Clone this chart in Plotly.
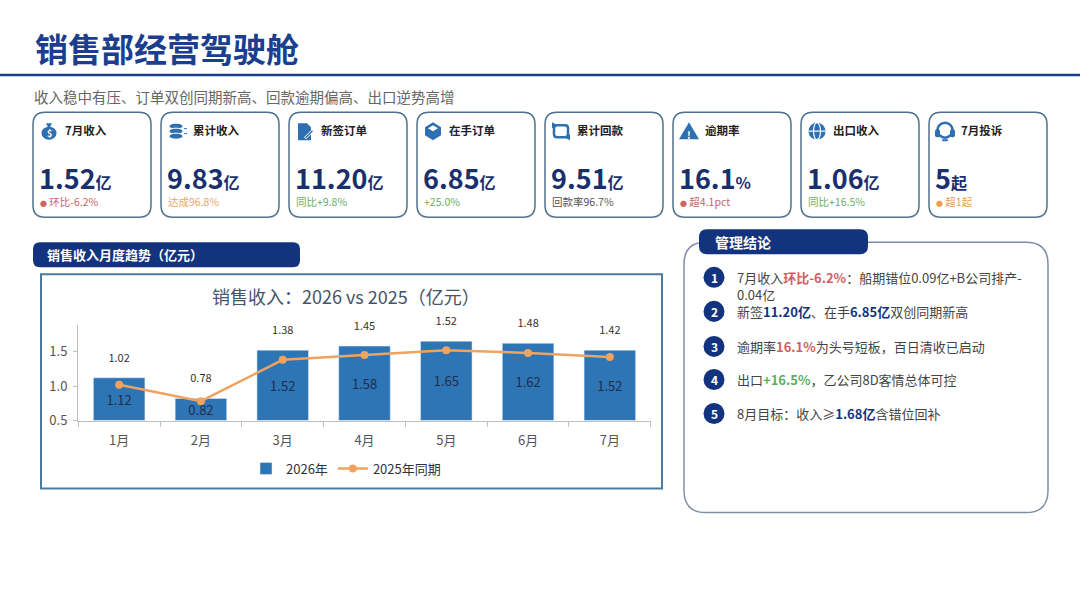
import plotly.graph_objects as go

W, H = 1080, 608
K = 0.984  # vertical correction: the photographed page comes out slightly squeezed
FONT = "Noto Sans CJK SC"
NAVY = "#14337f"
ICON = "#2e6fb0"

# ---------------------------------------------------------------------------
# data
# ---------------------------------------------------------------------------
months = ["1月", "2月", "3月", "4月", "5月", "6月", "7月"]
rev_2026 = [1.12, 0.82, 1.52, 1.58, 1.65, 1.62, 1.52]
rev_2025 = [1.02, 0.78, 1.38, 1.45, 1.52, 1.48, 1.42]
y_floor = 0.5  # axis starts at 0.5, bars are drawn from there

kpi_labels = ["7月收入", "累计收入", "新签订单", "在手订单", "累计回款", "逾期率", "出口收入", "7月投诉"]
kpi_values = ["1.52", "9.83", "11.20", "6.85", "9.51", "16.1", "1.06", "5"]
kpi_units = ["亿", "亿", "亿", "亿", "亿", "%", "亿", "起"]
kpi_notes = ["● 环比-6.2%", "达成96.8%", "同比+9.8%", "+25.0%", "回款率96.7%", "● 超4.1pct", "同比+16.5%", "● 超1起"]
kpi_note_colors = ["#c86464", "#e8a56a", "#6aae62", "#6aae62", "#555555", "#c86464", "#6aae62", "#e8a050"]

RED, GREEN = "#d06060", "#5cae5c"
conclusions = [
    f"7月收入<b><span style='color:{RED}'>环比-6.2%</span></b>：船期错位0.09亿+B公司排产-<br>0.04亿",
    f"新签<b><span style='color:{NAVY}'>11.20亿</span></b>、在手<b><span style='color:{NAVY}'>6.85亿</span></b>双创同期新高",
    f"逾期率<b><span style='color:{RED}'>16.1%</span></b>为头号短板，百日清收已启动",
    f"出口<b><span style='color:{GREEN}'>+16.5%</span></b>，乙公司8D客情总体可控",
    f"8月目标：收入≥<b><span style='color:{NAVY}'>1.68亿</span></b>含错位回补",
]


# ---------------------------------------------------------------------------
# helpers (pixel -> paper)
# ---------------------------------------------------------------------------
def X(px):
    return px / W


def Y(py):
    return 1 - py / (H * K)


def rrect(x0, y0, x1, y1, r):
    pts = [
        f"M {X(x0 + r)},{Y(y0)}",
        f"L {X(x1 - r)},{Y(y0)}",
        f"Q {X(x1)},{Y(y0)} {X(x1)},{Y(y0 + r)}",
        f"L {X(x1)},{Y(y1 - r)}",
        f"Q {X(x1)},{Y(y1)} {X(x1 - r)},{Y(y1)}",
        f"L {X(x0 + r)},{Y(y1)}",
        f"Q {X(x0)},{Y(y1)} {X(x0)},{Y(y1 - r)}",
        f"L {X(x0)},{Y(y0 + r)}",
        f"Q {X(x0)},{Y(y0)} {X(x0 + r)},{Y(y0)}",
        "Z",
    ]
    return " ".join(pts)


def poly(points):
    return "M " + " L ".join(f"{X(a)},{Y(b)}" for a, b in points) + " Z"


shapes = []
annotations = []


def add_path(path, fill=None, line="rgba(0,0,0,0)", width=0, layer="above"):
    shapes.append(dict(type="path", path=path, xref="paper", yref="paper",
                       fillcolor=fill, line=dict(color=line, width=width), layer=layer))


def add_circle(cx, cy, rx, ry=None, fill=None, line="rgba(0,0,0,0)", width=0):
    ry = rx if ry is None else ry
    shapes.append(dict(type="circle", xref="paper", yref="paper",
                       x0=X(cx - rx), x1=X(cx + rx), y0=Y(cy + ry), y1=Y(cy - ry),
                       fillcolor=fill, line=dict(color=line, width=width)))


def text(x, y, s, size, color="#333", bold=False, xanchor="left"):
    annotations.append(dict(x=X(x), y=Y(y), xref="paper", yref="paper", showarrow=False,
                            text=f"<b>{s}</b>" if bold else s, xanchor=xanchor, yanchor="middle",
                            align="left", font=dict(family=FONT, size=size, color=color)))


def icon(i, cx, cy):
    if i == 0:  # money bag
        add_path(poly([(cx - 3, cy - 8), (cx + 3, cy - 8), (cx + 1, cy - 4), (cx - 1, cy - 4)]), fill=ICON)
        add_circle(cx, cy + 2, 7.5, 6.5, fill=ICON)
        text(cx, cy + 2, "$", 9, "white", True, "center")
    elif i == 1:  # coins
        for dy in (-5, 0, 5):
            add_circle(cx - 1, cy + dy, 7, 3, fill=ICON, line="white", width=1)
        add_path(poly([(cx + 7, cy - 3), (cx + 10, cy - 3), (cx + 10, cy - 2), (cx + 7, cy - 2)]), fill=ICON)
        add_path(poly([(cx + 7, cy + 2), (cx + 10, cy + 2), (cx + 10, cy + 3), (cx + 7, cy + 3)]), fill=ICON)
    elif i == 2:  # document + pen
        add_path(poly([(cx - 7, cy - 8), (cx + 2, cy - 8), (cx + 6, cy - 4), (cx + 6, cy + 9), (cx - 7, cy + 9)]), fill=ICON)
        add_path(poly([(cx - 1, cy + 6), (cx + 7, cy - 2), (cx + 9, cy), (cx + 1, cy + 8)]), fill="white")
        add_path(poly([(cx, cy + 6), (cx + 7, cy - 1), (cx + 8, cy), (cx + 1, cy + 7)]), fill=ICON)
    elif i == 3:  # box
        add_path(poly([(cx, cy - 9), (cx + 8, cy - 4), (cx + 8, cy + 4), (cx, cy + 9), (cx - 8, cy + 4), (cx - 8, cy - 4)]), fill=ICON)
        add_path(poly([(cx, cy - 6), (cx + 5, cy - 3), (cx, cy), (cx - 5, cy - 3)]), fill="white")
    elif i == 4:  # refresh arrows
        add_path(rrect(cx - 7, cy - 6, cx + 7, cy + 6, 3), line=ICON, width=2.5)
        add_path(poly([(cx - 9, cy - 9), (cx - 3, cy - 6), (cx - 9, cy - 3)]), fill=ICON)
        add_path(poly([(cx + 9, cy + 3), (cx + 3, cy + 6), (cx + 9, cy + 9)]), fill=ICON)
    elif i == 5:  # warning
        add_path(poly([(cx, cy - 9), (cx + 10, cy + 8), (cx - 10, cy + 8)]), fill=ICON)
        text(cx, cy + 3, "!", 10, "white", True, "center")
    elif i == 6:  # globe
        add_circle(cx, cy, 8.5, fill=ICON)
        add_circle(cx, cy, 3.5, 8.5, line="white", width=1.2)
        shapes.append(dict(type="line", xref="paper", yref="paper", x0=X(cx - 8.5), x1=X(cx + 8.5),
                           y0=Y(cy), y1=Y(cy), line=dict(color="white", width=1.2)))
    else:  # headset
        add_circle(cx, cy - 1, 7.5, line=ICON, width=2.5)
        add_path(rrect(cx - 10, cy - 2, cx - 5, cy + 6, 2), fill=ICON)
        add_path(rrect(cx + 5, cy - 2, cx + 10, cy + 6, 2), fill=ICON)
        add_path(rrect(cx - 3, cy + 8, cx + 3, cy + 10, 1), fill=ICON)


# ---------------------------------------------------------------------------
# header
# ---------------------------------------------------------------------------
text(33, 48, "销售部经营驾驶舱", 33, "#1b3e8e", True)
shapes.append(dict(type="line", xref="paper", yref="paper", x0=0, x1=1, y0=Y(75), y1=Y(75),
                   line=dict(color="#1b3e8e", width=2.5)))
text(32, 96, "收入稳中有压、订单双创同期新高、回款逾期偏高、出口逆势高增", 14.5, "#666")

# ---------------------------------------------------------------------------
# KPI cards
# ---------------------------------------------------------------------------
for i, lab in enumerate(kpi_labels):
    x0 = 33 + 128 * i
    add_path(rrect(x0, 112, x0 + 118, 217, 12), fill="white", line="#4f6f8f", width=1.5, layer="below")
    icon(i, x0 + 16, 131)
    text(x0 + 30, 130, lab, 11.5, "#222", True)
    text(x0 + 4, 177,
         f"<b>{kpi_values[i]}</b><span style='font-size:16px'><b>{kpi_units[i]}</b></span>",
         27, "#1a2f6e")
    note = kpi_notes[i].replace("● ", "<span style='font-size:7px'>●</span> ")
    text(x0 + 5, 201, note, 10.5, kpi_note_colors[i])

# ---------------------------------------------------------------------------
# chart section
# ---------------------------------------------------------------------------
add_path(rrect(33, 242, 300, 267, 7), fill=NAVY)
text(45, 254.5, "销售收入月度趋势（亿元）", 13, "white", True)
shapes.append(dict(type="rect", xref="paper", yref="paper", x0=X(41), x1=X(662), y0=Y(488), y1=Y(274),
                   line=dict(color="#4a7a9c", width=2), fillcolor="rgba(0,0,0,0)", layer="below"))
text(346, 296, "销售收入：2026 vs 2025（亿元）", 18, "#44546a", xanchor="center")

# ---------------------------------------------------------------------------
# conclusions panel
# ---------------------------------------------------------------------------
add_path(rrect(684, 242, 1048, 512, 22), fill="white", line="#7d8fa6", width=1.5, layer="below")
add_path(rrect(699, 229, 868, 254, 8), fill=NAVY)
text(713, 241.5, "管理结论", 14, "white", True)
item_y = [286, 311, 346, 379, 413]
circle_y = [277, 311, 346, 379, 413]
for k, s in enumerate(conclusions):
    add_circle(714, circle_y[k], 10.5, fill=NAVY)
    text(714, circle_y[k], str(k + 1), 12, "white", True, "center")
    text(735, item_y[k], s, 13, "#444")

# ---------------------------------------------------------------------------
# figure
# ---------------------------------------------------------------------------
fig = go.Figure()
fig.add_trace(go.Bar(
    x=months, y=[v - y_floor for v in rev_2026], base=y_floor, name="2026年",
    marker=dict(color="#2e75b6"),
    text=[f"{v:.2f}" for v in rev_2026], textposition="inside", insidetextanchor="middle",
    constraintext="none", cliponaxis=False,
    textfont=dict(family=FONT, size=13, color="#1f2d4a"),
    hovertext=[f"{v:.2f}" for v in rev_2026], hoverinfo="x+text",
))
fig.add_trace(go.Scatter(
    x=months, y=rev_2025, name="2025年同期", mode="lines+markers",
    line=dict(color="#f0a35e", width=2.5), marker=dict(color="#f0a35e", size=8),
))
# 2025 value labels sit above whichever is taller, the bar or the point
fig.add_trace(go.Scatter(
    x=months, y=[max(a, b) for a, b in zip(rev_2026, rev_2025)], mode="markers+text",
    marker=dict(size=20, opacity=0), showlegend=False, hoverinfo="skip", cliponaxis=False,
    text=[f"{v:.2f}" for v in rev_2025], textposition="top center",
    textfont=dict(family=FONT, size=11, color="#333"),
))

fig.update_layout(
    width=W, height=H,
    margin=dict(l=0, r=0, t=0, b=0),
    paper_bgcolor="white", plot_bgcolor="white",
    font=dict(family=FONT, color="#444"),
    bargap=0.37,
    showlegend=True,
    legend=dict(orientation="h", x=X(346), y=Y(468), xanchor="center", yanchor="middle",
                font=dict(size=13, color="#333"), bgcolor="rgba(0,0,0,0)"),
    xaxis=dict(domain=[X(78), X(651)], showline=True, linecolor="#bfbfbf", linewidth=1,
               ticks="outside", tickson="boundaries", ticklen=5, tickcolor="#bfbfbf",
               ticklabelstandoff=8, tickfont=dict(size=13, color="#555"), showgrid=False),
    yaxis=dict(domain=[Y(420), Y(325)], range=[y_floor, 1.88], showline=True, linecolor="#bfbfbf",
               tickvals=[0.5, 1.0, 1.5], tickformat=".1f", showgrid=False, zeroline=False,
               ticks="outside", ticklen=4, tickcolor="#bfbfbf",
               ticklabelstandoff=3, tickfont=dict(size=13, color="#555")),
    shapes=shapes,
    annotations=annotations,
)

page_js = (
    "var s=document.createElement('style');"
    "s.textContent='html,body{margin:0;padding:0;overflow:hidden;}';"
    "document.head.appendChild(s);"
)
fig.write_html("out.html", config={"displayModeBar": False}, post_script=page_js)
